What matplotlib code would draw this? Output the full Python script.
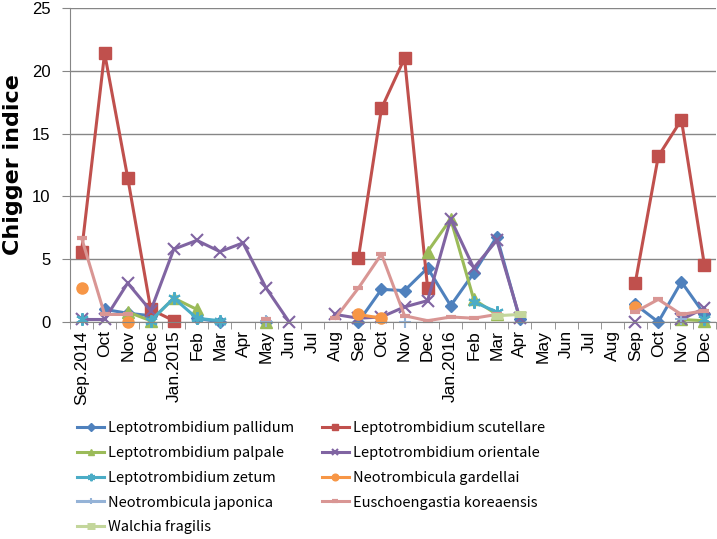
import numpy as np
import matplotlib
matplotlib.use('Agg')
import matplotlib.pyplot as plt
from matplotlib.ticker import FixedLocator

nan = np.nan

# categories (months)
months = ['Sep.2014', 'Oct', 'Nov', 'Dec', 'Jan.2015', 'Feb', 'Mar', 'Apr', 'May', 'Jun',
	'Jul', 'Aug', 'Sep', 'Oct', 'Nov', 'Dec', 'Jan.2016', 'Feb', 'Mar', 'Apr',
	'May', 'Jun', 'Jul', 'Aug', 'Sep', 'Oct', 'Nov', 'Dec']

# series values
pallidum = [nan, 1.0, 0.7, 0.5, nan, 0.3, 0.0, nan, 0.0, nan, nan, nan,
	0.0, 2.6, 2.5, 4.3, 1.3, 3.9, 6.8, 0.2, nan, nan, nan, nan,
	1.4, 0.0, 3.2, 0.6]
scutellare = [5.6, 21.4, 11.5, 1.0, 0.1, nan, nan, nan, nan, nan, nan, nan,
	5.1, 17.0, 21.0, 2.7, nan, nan, nan, nan, nan, nan, nan, nan,
	3.1, 13.2, 16.1, 4.5]
palpale = [nan, nan, 0.8, 0.1, 1.9, 1.0, nan, nan, 0.0, nan, nan, nan,
	nan, nan, nan, 5.6, 8.2, 1.8, 0.6, nan, nan, nan, nan, nan,
	nan, nan, 0.2, 0.1]
orientale = [0.2, 0.2, 3.1, 0.9, 5.8, 6.5, 5.6, 6.3, 2.7, 0.0, nan, 0.6,
	0.3, 0.4, 1.2, 1.7, 8.2, 4.3, 6.5, 0.3, nan, nan, nan, nan,
	0.0, nan, 0.2, 1.1]
zetum = [0.2, nan, nan, 0.1, 1.9, 0.3, 0.1, nan, nan, nan, nan, nan,
	nan, nan, nan, nan, nan, 1.6, 0.8, nan, nan, nan, nan, nan,
	nan, nan, nan, 0.2]
gardellai = [2.7, nan, 0.0, nan, nan, nan, nan, nan, nan, nan, nan, nan,
	0.6, 0.3, nan, nan, nan, nan, nan, nan, nan, nan, nan, nan,
	1.2, nan, nan, nan]
japonica = [nan, nan, nan, nan, nan, nan, nan, nan, 0.1, nan, nan, nan,
	nan, nan, 0.0, nan, nan, nan, nan, nan, nan, nan, nan, nan,
	nan, nan, 0.2, nan]
koreaensis = [6.7, 0.6, 0.6, nan, nan, nan, nan, nan, 0.2, nan, nan, 0.3,
	2.7, 5.4, 0.5, 0.1, 0.4, 0.3, 0.6, nan, nan, nan, nan, nan,
	0.8, 1.8, 0.6, 0.9]
walchia = [nan, nan, nan, nan, nan, nan, nan, nan, nan, nan, nan, nan,
	nan, nan, nan, nan, nan, nan, 0.5, 0.6, nan, nan, nan, nan,
	nan, nan, nan, nan]

yticks = [0, 5, 10, 15, 20, 25]

plt.rcParams['font.family'] = ['Liberation Sans', 'DejaVu Sans']

fig = plt.figure(figsize=(7.17, 5.39), dpi=100)
ax = fig.add_axes([70 / 717, 1 - 322 / 539, 646 / 717, 314 / 539])

x = np.arange(len(months))
LW = 2.2
series = [
	('Leptotrombidium pallidum', pallidum, '#4F81BD', dict(marker='D', ms=6.5)),
	('Leptotrombidium scutellare', scutellare, '#C0504D', dict(marker='s', ms=8)),
	('Leptotrombidium palpale', palpale, '#9BBB59', dict(marker='^', ms=8)),
	('Leptotrombidium orientale', orientale, '#8064A2', dict(marker='x', ms=8, mew=1.5)),
	('Leptotrombidium zetum', zetum, '#4BACC6', dict(marker=(6, 2, 0), ms=9, mew=1.5)),
	('Neotrombicula gardellai', gardellai, '#F79646', dict(marker='o', ms=8)),
	('Neotrombicula japonica', japonica, '#95B3D7', dict(marker='+', ms=8, mew=1.5)),
	('Euschoengastia koreaensis', koreaensis, '#D99694', dict(marker='_', ms=7, mew=3)),
	('Walchia fragilis', walchia, '#C3D69B', dict(marker='_', ms=9, mew=5)),
]
handles = {}
for name, vals, col, mk in series:
	h, = ax.plot(x, vals, color=col, lw=LW, label=name, clip_on=False, **mk)
	handles[name] = h

ax.set_xlim(-0.5, len(months) - 0.5)
ax.set_ylim(0, 25)
ax.set_yticks(yticks)
ax.set_xticks(x)
ax.set_xticklabels(months, rotation=90, fontsize=12.5)
ax.xaxis.set_minor_locator(FixedLocator(np.arange(-0.5, len(months), 1.0)))
ax.tick_params(axis='x', which='major', length=0, pad=6)
ax.tick_params(axis='x', which='minor', length=5, color='#868686', direction='out')
ax.tick_params(axis='y', length=6, color='#868686', labelsize=12, pad=8)
ax.grid(axis='y', color='#868686', lw=1)
ax.set_axisbelow(True)
for s in ['top', 'right']:
	ax.spines[s].set_visible(False)
ax.spines['left'].set_color('#868686')
ax.spines['bottom'].set_color('#868686')
ax.set_ylabel('Chigger indice', fontsize=16, fontweight='bold',
	family=['DejaVu Sans'])
ax.yaxis.set_label_coords((23 - 70) / 646, 0.5)

order = ['Leptotrombidium pallidum', 'Leptotrombidium palpale', 'Leptotrombidium zetum',
	'Neotrombicula japonica', 'Walchia fragilis', 'Leptotrombidium scutellare',
	'Leptotrombidium orientale', 'Neotrombicula gardellai', 'Euschoengastia koreaensis']
fig.legend([handles[n] for n in order], order, ncol=2, frameon=False,
	loc='upper left', bbox_to_anchor=(64 / 717, 1 - 408 / 539),
	prop={'family': ['Noto Sans CJK KR', 'DejaVu Sans'], 'size': 10.5},
	handlelength=1.85, handletextpad=0.27, columnspacing=1.9, labelspacing=0.74,
	markerscale=0.6)

fig.savefig('out.png', dpi=100)
